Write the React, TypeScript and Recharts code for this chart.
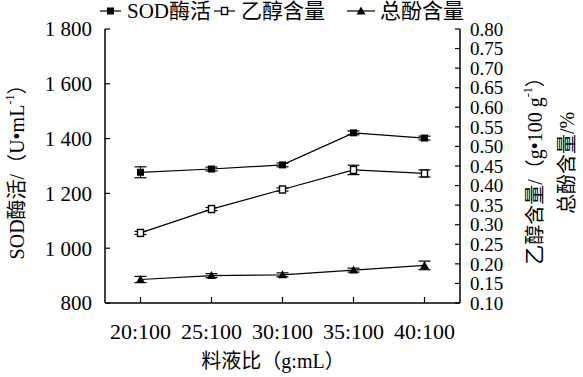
import React from 'react';
import { LineChart, Line, XAxis, YAxis, ErrorBar } from 'recharts';

const categories = ['20:100', '25:100', '30:100', '35:100', '40:100'];
const sodValues = [1277, 1289, 1304, 1421, 1402];
const sodErrors = [20, 7, 7, 7, 7];
const ethanolValues = [0.279, 0.34, 0.39, 0.44, 0.431];
const ethanolErrors = [0.004, 0.004, 0.004, 0.012, 0.009];
const phenolValues = [0.16, 0.17, 0.172, 0.184, 0.196];
const phenolErrors = [0.008, 0.005, 0.005, 0.005, 0.011];

const leftTicks = [800, 1000, 1200, 1400, 1600, 1800];
const rightTicks = [0.1, 0.15, 0.2, 0.25, 0.3, 0.35, 0.4, 0.45, 0.5, 0.55, 0.6, 0.65, 0.7, 0.75, 0.8];

const legendNames = ['SOD酶活', '乙醇含量', '总酚含量'];
const xTitle = '料液比（g:mL）';

const data = categories.map((c, i) => ({
  cat: c,
  sod: sodValues[i],
  sodErr: sodErrors[i],
  eth: ethanolValues[i],
  ethErr: ethanolErrors[i],
  phe: phenolValues[i],
  pheErr: phenolErrors[i],
}));

const FONT = "'Liberation Serif', 'Times New Roman', 'Noto Sans CJK SC', serif";
const INK = '#000';

const fmtLeft = (v: number) => {
  if (v >= 1000) {
    const th = Math.floor(v / 1000);
    const rest = String(v % 1000).padStart(3, '0');
    return `${th} ${rest}`;
  }
  return String(v);
};

const SquareDot = (p: any) => (
  <rect key={`s-${p.index}`} x={p.cx - 3.5} y={p.cy - 3.5} width={7} height={7} fill={INK} />
);
const HollowDot = (p: any) => (
  <rect key={`h-${p.index}`} x={p.cx - 3} y={p.cy - 3.5} width={6} height={7} fill="#fff" stroke={INK} strokeWidth={1.4} />
);
const TriDot = (p: any) => (
  <polygon
    key={`t-${p.index}`}
    points={`${p.cx},${p.cy - 4.5} ${p.cx + 4.5},${p.cy + 3.5} ${p.cx - 4.5},${p.cy + 3.5}`}
    fill={INK}
  />
);

const LeftTitle = () => (
  <text
    x={17}
    y={167}
    transform="rotate(-90 17 167)"
    textAnchor="middle"
    dominantBaseline="central"
    fontFamily={FONT}
    fontSize={20}
    fill={INK}
  >
    <tspan>SOD酶活/（U•mL</tspan>
    <tspan dy={-7} fontSize={12}>-1</tspan>
    <tspan dy={7}>）</tspan>
  </text>
);

const RightTitle = () => (
  <g>
    <text
      x={535}
      y={166}
      transform="rotate(-90 535 166)"
      textAnchor="middle"
      dominantBaseline="central"
      fontFamily={FONT}
      fontSize={20}
      fill={INK}
    >
      <tspan>乙醇含量/（g•100 g</tspan>
      <tspan dy={-7} fontSize={12}>-1</tspan>
      <tspan dy={7}>）</tspan>
    </text>
    <text
      x={567}
      y={163}
      transform="rotate(-90 567 163)"
      textAnchor="middle"
      dominantBaseline="central"
      fontFamily={FONT}
      fontSize={20}
      fill={INK}
    >
      总酚含量/%
    </text>
  </g>
);

const XTitle = () => (
  <text x={273} y={368} textAnchor="middle" fontFamily={FONT} fontSize={20} fill={INK}>
    {xTitle}
  </text>
);

const Legend = () => (
  <svg width={583} height={29} style={{ position: 'absolute', left: 0, top: 0 }}>
    <line x1={100} x2={121} y1={11} y2={11} stroke={INK} strokeWidth={1.2} />
    <rect x={107} y={7.5} width={7} height={7} fill={INK} />
    <text x={127} y={18} fontFamily={FONT} fontSize={21} fill={INK}>{legendNames[0]}</text>
    <line x1={214} x2={235} y1={11} y2={11} stroke={INK} strokeWidth={1.2} />
    <rect x={221.5} y={7.5} width={6} height={7} fill="#fff" stroke={INK} strokeWidth={1.4} />
    <text x={241} y={18} fontFamily={FONT} fontSize={21} fill={INK}>{legendNames[1]}</text>
    <line x1={347} x2={375} y1={11} y2={11} stroke={INK} strokeWidth={1.2} />
    <polygon points="361,6.5 365.5,14.5 356.5,14.5" fill={INK} />
    <text x={380} y={18} fontFamily={FONT} fontSize={21} fill={INK}>{legendNames[2]}</text>
  </svg>
);

export default function App() {
  return (
    <div style={{ position: 'absolute', left: 0, top: 0, width: 583, height: 377, background: '#fff' }}>
      <LineChart width={583} height={377} data={data} margin={{ top: 29, right: 0, bottom: 0, left: 0 }}>
        <XAxis
          dataKey="cat"
          height={74}
          padding={{ left: 35.5, right: 35.5 }}
          interval={0}
          tickSize={-6}
          tickMargin={26}
          axisLine={{ stroke: INK, strokeWidth: 1.5 }}
          tickLine={{ stroke: INK, strokeWidth: 1.2 }}
          tick={{ fill: INK, fontSize: 22, fontFamily: FONT }}
          label={{ content: () => <XTitle /> }}
        />
        <YAxis
          yAxisId="left"
          width={105}
          domain={[800, 1800]}
          ticks={leftTicks}
          interval={0}
          tickFormatter={fmtLeft}
          tickSize={-5}
          tickMargin={18}
          axisLine={{ stroke: INK, strokeWidth: 1.5 }}
          tickLine={{ stroke: INK, strokeWidth: 1.2 }}
          tick={{ fill: INK, fontSize: 21, fontFamily: FONT }}
          label={{ content: () => <LeftTitle /> }}
        />
        <YAxis
          yAxisId="right"
          orientation="right"
          width={123}
          domain={[0.1, 0.8]}
          ticks={rightTicks}
          interval={0}
          tickFormatter={(v: number) => v.toFixed(2)}
          tickSize={-5}
          tickMargin={15}
          axisLine={{ stroke: INK, strokeWidth: 1.5 }}
          tickLine={{ stroke: INK, strokeWidth: 1.2 }}
          tick={{ fill: INK, fontSize: 19, fontFamily: FONT }}
          label={{ content: () => <RightTitle /> }}
        />
        <Line yAxisId="left" dataKey="sod" stroke={INK} strokeWidth={1.2} dot={SquareDot} isAnimationActive={false}>
          <ErrorBar dataKey="sodErr" width={6} stroke={INK} strokeWidth={1.2} direction="y" />
        </Line>
        <Line yAxisId="right" dataKey="eth" stroke={INK} strokeWidth={1.2} dot={HollowDot} isAnimationActive={false}>
          <ErrorBar dataKey="ethErr" width={6} stroke={INK} strokeWidth={1.2} direction="y" />
        </Line>
        <Line yAxisId="right" dataKey="phe" stroke={INK} strokeWidth={1.2} dot={TriDot} isAnimationActive={false}>
          <ErrorBar dataKey="pheErr" width={6} stroke={INK} strokeWidth={1.2} direction="y" />
        </Line>
      </LineChart>
      <Legend />
    </div>
  );
}
